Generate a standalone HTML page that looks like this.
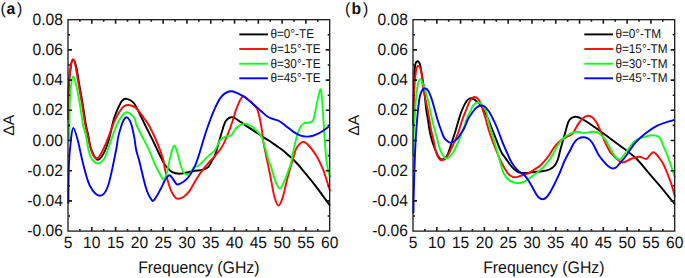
<!DOCTYPE html>
<html><head><meta charset="utf-8"><style>
html,body{margin:0;padding:0;background:#fff;}
svg{display:block;text-rendering:geometricPrecision;}
</style></head><body>
<svg width="685" height="278" viewBox="0 0 685 278">
<rect width="685" height="278" fill="#fff"/>
<g fill="none" stroke-width="1.90" stroke-linejoin="round" stroke-linecap="butt">
<path d="M68.40,120.00 C68.47,114.33 68.40,94.95 68.80,86.00 C69.20,77.05 70.08,70.70 70.80,66.30 C71.52,61.90 72.22,59.60 73.10,59.60 C73.98,59.60 75.03,61.90 76.10,66.30 C77.17,70.70 78.38,79.55 79.50,86.00 C80.62,92.45 81.73,98.50 82.80,105.00 C83.87,111.50 85.00,120.00 85.90,125.00 C86.80,130.00 87.43,131.33 88.20,135.00 C88.97,138.67 89.60,143.67 90.50,147.00 C91.40,150.33 92.40,152.87 93.60,155.00 C94.80,157.13 96.17,159.80 97.70,159.80 C99.23,159.80 101.35,157.13 102.80,155.00 C104.25,152.87 105.28,149.93 106.40,147.00 C107.52,144.07 108.30,141.90 109.50,137.40 C110.70,132.90 112.30,124.57 113.60,120.00 C114.90,115.43 115.92,113.20 117.30,110.00 C118.68,106.80 120.32,102.65 121.90,100.80 C123.48,98.95 124.83,98.57 126.80,98.90 C128.77,99.23 131.57,100.33 133.70,102.80 C135.83,105.27 137.70,110.00 139.60,113.70 C141.50,117.40 142.98,120.72 145.10,125.00 C147.22,129.28 149.82,134.32 152.30,139.40 C154.78,144.48 158.00,151.42 160.00,155.50 C162.00,159.58 163.03,161.82 164.30,163.90 C165.57,165.98 166.27,166.62 167.60,168.00 C168.93,169.38 170.32,171.25 172.30,172.20 C174.28,173.15 176.87,173.70 179.50,173.70 C182.13,173.70 185.52,172.68 188.10,172.20 C190.68,171.72 192.60,171.20 195.00,170.80 C197.40,170.40 200.25,170.47 202.50,169.80 C204.75,169.13 206.85,168.45 208.50,166.80 C210.15,165.15 211.25,162.03 212.40,159.90 C213.55,157.77 213.85,158.57 215.40,154.00 C216.95,149.43 219.97,138.00 221.70,132.50 C223.43,127.00 224.03,123.57 225.80,121.00 C227.57,118.43 229.78,116.92 232.30,117.10 C234.82,117.28 238.68,120.70 240.90,122.10 C243.12,123.50 243.30,123.95 245.60,125.50 C247.90,127.05 251.97,129.58 254.70,131.40 C257.43,133.22 259.58,134.83 262.00,136.40 C264.42,137.97 266.80,139.23 269.20,140.80 C271.60,142.37 274.00,144.12 276.40,145.80 C278.80,147.48 281.20,148.98 283.60,150.90 C286.00,152.82 288.40,155.03 290.80,157.30 C293.20,159.57 295.60,161.85 298.00,164.50 C300.40,167.15 302.35,169.73 305.20,173.20 C308.05,176.67 310.97,179.92 315.10,185.30 C319.23,190.68 327.52,202.13 330.00,205.50" stroke="#000000"/>
<path d="M68.40,120.00 C68.47,114.33 68.40,95.00 68.80,86.00 C69.20,77.00 70.12,70.45 70.80,66.00 C71.48,61.55 72.12,59.30 72.90,59.30 C73.68,59.30 74.50,61.55 75.50,66.00 C76.50,70.45 77.78,79.50 78.90,86.00 C80.02,92.50 81.13,98.50 82.20,105.00 C83.27,111.50 84.40,120.00 85.30,125.00 C86.20,130.00 86.78,131.33 87.60,135.00 C88.42,138.67 89.28,143.67 90.20,147.00 C91.12,150.33 92.02,153.12 93.10,155.00 C94.18,156.88 95.52,158.30 96.70,158.30 C97.88,158.30 98.92,156.88 100.20,155.00 C101.48,153.12 103.05,149.93 104.40,147.00 C105.75,144.07 106.55,141.90 108.30,137.40 C110.05,132.90 112.85,124.57 114.90,120.00 C116.95,115.43 119.08,112.28 120.60,110.00 C122.12,107.72 122.60,107.13 124.00,106.30 C125.40,105.47 127.05,104.75 129.00,105.00 C130.95,105.25 133.27,105.68 135.70,107.80 C138.13,109.92 141.43,114.83 143.60,117.70 C145.77,120.57 146.78,121.62 148.70,125.00 C150.62,128.38 153.20,133.80 155.10,138.00 C157.00,142.20 158.75,146.60 160.10,150.20 C161.45,153.80 162.37,156.28 163.20,159.60 C164.03,162.92 164.30,166.43 165.10,170.10 C165.90,173.77 167.05,178.25 168.00,181.60 C168.95,184.95 169.62,187.57 170.80,190.20 C171.98,192.83 173.90,195.97 175.10,197.40 C176.30,198.83 176.55,198.92 178.00,198.80 C179.45,198.68 181.88,198.02 183.80,196.70 C185.72,195.38 187.63,193.42 189.50,190.90 C191.37,188.38 193.15,184.63 195.00,181.60 C196.85,178.57 198.35,175.83 200.60,172.70 C202.85,169.57 206.10,165.60 208.50,162.80 C210.90,160.00 212.58,158.85 215.00,155.90 C217.42,152.95 220.28,150.25 223.00,145.10 C225.72,139.95 229.03,131.17 231.30,125.00 C233.57,118.83 234.72,112.85 236.60,108.10 C238.48,103.35 240.70,97.93 242.60,96.50 C244.50,95.07 246.12,98.12 248.00,99.50 C249.88,100.88 252.38,103.25 253.90,104.80 C255.42,106.35 256.15,106.65 257.10,108.80 C258.05,110.95 258.78,114.07 259.60,117.70 C260.42,121.33 261.37,126.52 262.00,130.60 C262.63,134.68 262.68,137.87 263.40,142.20 C264.12,146.53 265.52,152.80 266.30,156.60 C267.08,160.40 267.27,160.90 268.10,165.00 C268.93,169.10 270.22,175.80 271.30,181.20 C272.38,186.60 273.38,193.33 274.60,197.40 C275.82,201.47 277.25,205.60 278.60,205.60 C279.95,205.60 281.35,201.47 282.70,197.40 C284.05,193.33 285.37,186.33 286.70,181.20 C288.03,176.07 289.53,170.70 290.70,166.60 C291.87,162.50 292.72,159.70 293.70,156.60 C294.68,153.50 295.03,150.45 296.60,148.00 C298.17,145.55 300.93,142.15 303.10,141.90 C305.27,141.65 307.32,144.05 309.60,146.50 C311.88,148.95 314.65,153.00 316.80,156.60 C318.95,160.20 321.00,164.62 322.50,168.10 C324.00,171.58 324.55,173.68 325.80,177.50 C327.05,181.32 329.30,188.75 330.00,191.00" stroke="#ff0808"/>
<path d="M69.20,141.00 C69.23,138.33 69.32,131.00 69.40,125.00 C69.48,119.00 69.43,111.50 69.70,105.00 C69.97,98.50 70.42,90.77 71.00,86.00 C71.58,81.23 72.30,76.40 73.20,76.40 C74.10,76.40 75.27,81.23 76.40,86.00 C77.53,90.77 78.88,98.50 80.00,105.00 C81.12,111.50 82.13,120.00 83.10,125.00 C84.07,130.00 85.00,131.33 85.80,135.00 C86.60,138.67 87.22,143.67 87.90,147.00 C88.58,150.33 89.13,152.83 89.90,155.00 C90.67,157.17 91.22,158.58 92.50,160.00 C93.78,161.42 95.80,163.50 97.60,163.50 C99.40,163.50 101.92,161.42 103.30,160.00 C104.68,158.58 104.98,157.17 105.90,155.00 C106.82,152.83 107.97,149.33 108.80,147.00 C109.63,144.67 109.88,143.95 110.90,141.00 C111.92,138.05 113.50,132.80 114.90,129.30 C116.30,125.80 117.42,122.83 119.30,120.00 C121.18,117.17 123.70,112.63 126.20,112.30 C128.70,111.97 132.60,115.88 134.30,118.00 C136.00,120.12 134.85,121.43 136.40,125.00 C137.95,128.57 141.43,135.08 143.60,139.40 C145.77,143.72 147.50,146.75 149.40,150.90 C151.30,155.05 153.10,160.15 155.00,164.30 C156.90,168.45 159.37,173.28 160.80,175.80 C162.23,178.32 162.68,179.53 163.60,179.40 C164.52,179.27 165.55,177.05 166.30,175.00 C167.05,172.95 167.53,169.67 168.10,167.10 C168.67,164.53 169.07,162.30 169.70,159.60 C170.33,156.90 171.18,153.22 171.90,150.90 C172.62,148.58 173.28,146.05 174.00,145.70 C174.72,145.35 175.48,147.03 176.20,148.80 C176.92,150.57 177.50,153.43 178.30,156.30 C179.10,159.17 180.13,163.30 181.00,166.00 C181.87,168.70 182.45,171.07 183.50,172.50 C184.55,173.93 186.10,174.52 187.30,174.60 C188.50,174.68 189.62,174.23 190.70,173.00 C191.78,171.77 192.48,168.45 193.80,167.20 C195.12,165.95 196.15,167.38 198.60,165.50 C201.05,163.62 205.77,158.48 208.50,155.90 C211.23,153.32 212.95,152.77 215.00,150.00 C217.05,147.23 218.88,141.57 220.80,139.30 C222.72,137.03 224.75,137.07 226.50,136.40 C228.25,135.73 229.62,136.78 231.30,135.30 C232.98,133.82 234.42,129.45 236.60,127.50 C238.78,125.55 241.88,123.78 244.40,123.60 C246.92,123.42 249.43,124.97 251.70,126.40 C253.97,127.83 256.28,130.28 258.00,132.20 C259.72,134.12 260.62,134.55 262.00,137.90 C263.38,141.25 265.17,148.45 266.30,152.30 C267.43,156.15 267.97,158.47 268.80,161.00 C269.63,163.53 270.20,164.13 271.30,167.50 C272.40,170.87 274.00,177.68 275.40,181.20 C276.80,184.72 278.22,188.60 279.70,188.60 C281.18,188.60 282.93,183.97 284.30,181.20 C285.67,178.43 286.82,174.90 287.90,172.00 C288.98,169.10 289.83,167.57 290.80,163.80 C291.77,160.03 292.62,154.20 293.70,149.40 C294.78,144.60 296.17,138.77 297.30,135.00 C298.43,131.23 299.38,128.75 300.50,126.80 C301.62,124.85 302.83,123.98 304.00,123.30 C305.17,122.62 306.52,122.85 307.50,122.70 C308.48,122.55 308.92,122.90 309.90,122.40 C310.88,121.90 312.23,122.87 313.40,119.70 C314.57,116.53 315.82,108.30 316.90,103.40 C317.98,98.50 319.12,91.87 319.90,90.30 C320.68,88.73 320.93,87.92 321.60,94.00 C322.27,100.08 323.32,118.30 323.90,126.80 C324.48,135.30 324.68,139.47 325.10,145.00 C325.52,150.53 325.87,155.67 326.40,160.00 C326.93,164.33 327.70,168.17 328.30,171.00 C328.90,173.83 329.72,176.00 330.00,177.00" stroke="#10ff18"/>
<path d="M68.40,203.40 C68.48,197.00 68.48,175.57 68.90,165.00 C69.32,154.43 70.17,146.18 70.90,140.00 C71.63,133.82 72.17,127.90 73.30,127.90 C74.43,127.90 76.02,133.82 77.70,140.00 C79.38,146.18 81.35,157.33 83.40,165.00 C85.45,172.67 87.25,180.88 90.00,186.00 C92.75,191.12 96.90,195.70 99.90,195.70 C102.90,195.70 105.30,193.62 108.00,186.00 C110.70,178.38 114.42,158.10 116.10,150.00 C117.78,141.90 117.23,141.40 118.10,137.40 C118.97,133.40 120.37,128.90 121.30,126.00 C122.23,123.10 122.83,121.47 123.70,120.00 C124.57,118.53 125.53,117.20 126.50,117.20 C127.47,117.20 128.62,118.53 129.50,120.00 C130.38,121.47 131.00,123.10 131.80,126.00 C132.60,128.90 133.57,133.40 134.30,137.40 C135.03,141.40 135.37,146.07 136.20,150.00 C137.03,153.93 137.67,154.67 139.30,161.00 C140.93,167.33 143.92,181.48 146.00,188.00 C148.08,194.52 150.30,198.30 151.80,200.10 C153.30,201.90 153.50,200.68 155.00,198.80 C156.50,196.92 159.12,191.92 160.80,188.80 C162.48,185.68 163.67,182.35 165.10,180.10 C166.53,177.85 167.97,175.30 169.40,175.30 C170.83,175.30 172.38,178.57 173.70,180.10 C175.02,181.63 175.62,184.25 177.30,184.50 C178.98,184.75 181.77,183.05 183.80,181.60 C185.83,180.15 187.63,178.43 189.50,175.80 C191.37,173.17 193.48,169.12 195.00,165.80 C196.52,162.48 196.67,161.87 198.60,155.90 C200.53,149.93 203.87,137.97 206.60,130.00 C209.33,122.03 212.43,113.77 215.00,108.10 C217.57,102.43 219.30,98.82 222.00,96.00 C224.70,93.18 227.68,91.17 231.20,91.20 C234.72,91.23 239.45,94.08 243.10,96.20 C246.75,98.32 250.08,101.40 253.10,103.90 C256.12,106.40 258.77,109.05 261.20,111.20 C263.63,113.35 265.55,115.45 267.70,116.80 C269.85,118.15 272.22,118.60 274.10,119.30 C275.98,120.00 277.10,119.93 279.00,121.00 C280.90,122.07 283.08,123.88 285.50,125.70 C287.92,127.52 291.08,130.30 293.50,131.90 C295.92,133.50 297.85,134.52 300.00,135.30 C302.15,136.08 304.40,136.48 306.40,136.60 C308.40,136.72 310.05,136.50 312.00,136.00 C313.95,135.50 316.18,134.52 318.10,133.60 C320.02,132.68 321.72,131.68 323.50,130.50 C325.28,129.32 327.92,127.17 328.80,126.50" stroke="#0000ff"/>
</g>
<g stroke="#1a1a1a" stroke-width="1.3" fill="none">
<rect x="68.00" y="19.70" width="261.70" height="211.40"/>
<path stroke-width="1.6" d="M79.90,231.10v-2.00 M79.90,19.70v2.00 M91.79,231.10v-4.00 M91.79,19.70v4.00 M103.69,231.10v-2.00 M103.69,19.70v2.00 M115.58,231.10v-4.00 M115.58,19.70v4.00 M127.48,231.10v-2.00 M127.48,19.70v2.00 M139.37,231.10v-4.00 M139.37,19.70v4.00 M151.27,231.10v-2.00 M151.27,19.70v2.00 M163.16,231.10v-4.00 M163.16,19.70v4.00 M175.06,231.10v-2.00 M175.06,19.70v2.00 M186.95,231.10v-4.00 M186.95,19.70v4.00 M198.85,231.10v-2.00 M198.85,19.70v2.00 M210.75,231.10v-4.00 M210.75,19.70v4.00 M222.64,231.10v-2.00 M222.64,19.70v2.00 M234.54,231.10v-4.00 M234.54,19.70v4.00 M246.43,231.10v-2.00 M246.43,19.70v2.00 M258.33,231.10v-4.00 M258.33,19.70v4.00 M270.22,231.10v-2.00 M270.22,19.70v2.00 M282.12,231.10v-4.00 M282.12,19.70v4.00 M294.01,231.10v-2.00 M294.01,19.70v2.00 M305.91,231.10v-4.00 M305.91,19.70v4.00 M317.80,231.10v-2.00 M317.80,19.70v2.00 M68.00,34.80h2.00 M329.70,34.80h-2.00 M68.00,49.90h4.00 M329.70,49.90h-4.00 M68.00,65.00h2.00 M329.70,65.00h-2.00 M68.00,80.10h4.00 M329.70,80.10h-4.00 M68.00,95.20h2.00 M329.70,95.20h-2.00 M68.00,110.30h4.00 M329.70,110.30h-4.00 M68.00,125.40h2.00 M329.70,125.40h-2.00 M68.00,140.50h4.00 M329.70,140.50h-4.00 M68.00,155.60h2.00 M329.70,155.60h-2.00 M68.00,170.70h4.00 M329.70,170.70h-4.00 M68.00,185.80h2.00 M329.70,185.80h-2.00 M68.00,200.90h4.00 M329.70,200.90h-4.00 M68.00,216.00h2.00 M329.70,216.00h-2.00"/>
</g>
<g font-family="Liberation Sans, sans-serif" fill="#111">
<text transform="translate(62.90,24.70) scale(0.953,1)" font-size="16.40" text-anchor="end">0.08</text>
<text transform="translate(62.90,54.90) scale(0.953,1)" font-size="16.40" text-anchor="end">0.06</text>
<text transform="translate(62.90,85.10) scale(0.953,1)" font-size="16.40" text-anchor="end">0.04</text>
<text transform="translate(62.90,115.30) scale(0.953,1)" font-size="16.40" text-anchor="end">0.02</text>
<text transform="translate(62.90,145.50) scale(0.953,1)" font-size="16.40" text-anchor="end">0.00</text>
<text transform="translate(62.90,175.70) scale(0.953,1)" font-size="16.40" text-anchor="end">-0.02</text>
<text transform="translate(62.90,205.90) scale(0.953,1)" font-size="16.40" text-anchor="end">-0.04</text>
<text transform="translate(62.90,236.10) scale(0.953,1)" font-size="16.40" text-anchor="end">-0.06</text>
<text transform="translate(68.00,247.60) scale(0.953,1)" font-size="16.40" text-anchor="middle">5</text>
<text transform="translate(91.79,247.60) scale(0.953,1)" font-size="16.40" text-anchor="middle">10</text>
<text transform="translate(115.58,247.60) scale(0.953,1)" font-size="16.40" text-anchor="middle">15</text>
<text transform="translate(139.37,247.60) scale(0.953,1)" font-size="16.40" text-anchor="middle">20</text>
<text transform="translate(163.16,247.60) scale(0.953,1)" font-size="16.40" text-anchor="middle">25</text>
<text transform="translate(186.95,247.60) scale(0.953,1)" font-size="16.40" text-anchor="middle">30</text>
<text transform="translate(210.75,247.60) scale(0.953,1)" font-size="16.40" text-anchor="middle">35</text>
<text transform="translate(234.54,247.60) scale(0.953,1)" font-size="16.40" text-anchor="middle">40</text>
<text transform="translate(258.33,247.60) scale(0.953,1)" font-size="16.40" text-anchor="middle">45</text>
<text transform="translate(282.12,247.60) scale(0.953,1)" font-size="16.40" text-anchor="middle">50</text>
<text transform="translate(305.91,247.60) scale(0.953,1)" font-size="16.40" text-anchor="middle">55</text>
<text transform="translate(329.70,247.60) scale(0.953,1)" font-size="16.40" text-anchor="middle">60</text>
<text transform="translate(198.85,273.30) scale(0.948,1)" font-size="16.70" text-anchor="middle">Frequency (GHz)</text>
<text transform="translate(14.20,125.30) rotate(-90) scale(1.020,1)" font-size="15.40" text-anchor="middle">&#916;A</text>
<path d="M239.30,34.40H267.90" stroke="#000000" stroke-width="1.90"/>
<text transform="translate(270.40,38.40) scale(0.920,1)" font-size="12.80" text-anchor="start">&#952;=0&#176;-TE</text>
<path d="M239.30,49.00H267.90" stroke="#ff0808" stroke-width="1.90"/>
<text transform="translate(270.40,53.00) scale(0.920,1)" font-size="12.80" text-anchor="start">&#952;=15&#176;-TE</text>
<path d="M239.30,63.70H267.90" stroke="#10ff18" stroke-width="1.90"/>
<text transform="translate(270.40,67.70) scale(0.920,1)" font-size="12.80" text-anchor="start">&#952;=30&#176;-TE</text>
<path d="M239.30,78.30H267.90" stroke="#0000ff" stroke-width="1.90"/>
<text transform="translate(270.40,82.30) scale(0.920,1)" font-size="12.80" text-anchor="start">&#952;=45&#176;-TE</text>
</g>
<g font-family="Liberation Sans, sans-serif" font-size="16.4" fill="#111" transform="translate(0.70,14.3) scale(0.97,1)"><text x="-0.30" y="0">(</text><text x="6.1" y="-0.1" font-weight="bold" font-size="16.2">a</text><text x="16.70" y="0">)</text></g>
<g fill="none" stroke-width="1.90" stroke-linejoin="round" stroke-linecap="butt">
<path d="M413.40,125.00 C413.45,120.83 413.57,107.50 413.70,100.00 C413.83,92.50 413.97,85.67 414.20,80.00 C414.43,74.33 414.78,68.95 415.10,66.00 C415.42,63.05 415.70,63.08 416.10,62.30 C416.50,61.52 417.03,61.30 417.50,61.30 C417.97,61.30 418.43,61.60 418.90,62.30 C419.37,63.00 419.75,63.05 420.30,65.50 C420.85,67.95 421.55,72.92 422.20,77.00 C422.85,81.08 423.70,86.17 424.20,90.00 C424.70,93.83 424.85,96.67 425.20,100.00 C425.55,103.33 425.83,106.67 426.30,110.00 C426.77,113.33 427.47,116.67 428.00,120.00 C428.53,123.33 428.87,126.67 429.50,130.00 C430.13,133.33 430.88,136.83 431.80,140.00 C432.72,143.17 433.97,146.33 435.00,149.00 C436.03,151.67 436.92,154.25 438.00,156.00 C439.08,157.75 440.33,159.17 441.50,159.50 C442.67,159.83 443.92,158.95 445.00,158.00 C446.08,157.05 446.78,156.67 448.00,153.80 C449.22,150.93 451.00,144.77 452.30,140.80 C453.60,136.83 454.72,133.55 455.80,130.00 C456.88,126.45 457.77,122.83 458.80,119.50 C459.83,116.17 460.72,113.05 462.00,110.00 C463.28,106.95 465.15,103.13 466.50,101.20 C467.85,99.27 468.90,98.75 470.10,98.40 C471.30,98.05 472.62,98.62 473.70,99.10 C474.78,99.58 475.63,100.52 476.60,101.30 C477.57,102.08 478.55,102.78 479.50,103.80 C480.45,104.82 481.38,106.12 482.30,107.40 C483.22,108.68 483.97,109.40 485.00,111.50 C486.03,113.60 487.38,117.25 488.50,120.00 C489.62,122.75 490.12,123.97 491.70,128.00 C493.28,132.03 496.38,140.17 498.00,144.20 C499.62,148.23 500.10,149.80 501.40,152.20 C502.70,154.60 504.40,156.58 505.80,158.60 C507.20,160.62 508.52,162.63 509.80,164.30 C511.08,165.97 512.02,167.27 513.50,168.60 C514.98,169.93 516.63,171.57 518.70,172.30 C520.77,173.03 523.27,173.05 525.90,173.00 C528.53,172.95 532.15,172.25 534.50,172.00 C536.85,171.75 537.65,171.87 540.00,171.50 C542.35,171.13 546.18,170.75 548.60,169.80 C551.02,168.85 552.93,167.60 554.50,165.80 C556.07,164.00 557.03,161.63 558.00,159.00 C558.97,156.37 559.23,153.90 560.30,150.00 C561.37,146.10 563.05,140.30 564.40,135.60 C565.75,130.90 567.13,124.77 568.40,121.80 C569.67,118.83 570.68,118.63 572.00,117.80 C573.32,116.97 574.60,116.60 576.30,116.80 C578.00,117.00 579.90,117.80 582.20,119.00 C584.50,120.20 587.13,122.00 590.10,124.00 C593.07,126.00 596.70,128.63 600.00,131.00 C603.30,133.37 606.62,135.78 609.90,138.20 C613.18,140.62 616.75,143.30 619.70,145.50 C622.65,147.70 624.75,149.15 627.60,151.40 C630.45,153.65 632.93,155.00 636.80,159.00 C640.67,163.00 646.13,169.93 650.80,175.40 C655.47,180.87 660.77,186.95 664.80,191.80 C668.83,196.65 673.30,202.38 675.00,204.50" stroke="#000000"/>
<path d="M413.40,122.00 C413.43,120.00 413.52,113.67 413.60,110.00 C413.68,106.33 413.75,104.17 413.90,100.00 C414.05,95.83 414.23,89.17 414.50,85.00 C414.77,80.83 415.15,77.83 415.50,75.00 C415.85,72.17 416.13,69.53 416.60,68.00 C417.07,66.47 417.70,65.80 418.30,65.80 C418.90,65.80 419.62,66.47 420.20,68.00 C420.78,69.53 421.40,72.17 421.80,75.00 C422.20,77.83 421.97,80.83 422.60,85.00 C423.23,89.17 424.75,95.83 425.60,100.00 C426.45,104.17 427.05,106.67 427.70,110.00 C428.35,113.33 428.93,116.67 429.50,120.00 C430.07,123.33 430.43,126.67 431.10,130.00 C431.77,133.33 432.72,136.52 433.50,140.00 C434.28,143.48 434.93,147.88 435.80,150.90 C436.67,153.92 437.62,156.53 438.70,158.10 C439.78,159.67 440.98,160.42 442.30,160.30 C443.62,160.18 445.05,159.45 446.60,157.40 C448.15,155.35 449.92,151.48 451.60,148.00 C453.28,144.52 455.45,139.50 456.70,136.50 C457.95,133.50 458.15,132.83 459.10,130.00 C460.05,127.17 461.23,122.83 462.40,119.50 C463.57,116.17 465.17,112.38 466.10,110.00 C467.03,107.62 467.22,106.95 468.00,105.20 C468.78,103.45 469.73,100.87 470.80,99.50 C471.87,98.13 473.20,97.12 474.40,97.00 C475.60,96.88 476.92,97.67 478.00,98.80 C479.08,99.93 480.10,101.93 480.90,103.80 C481.70,105.67 481.98,107.38 482.80,110.00 C483.62,112.62 484.82,116.17 485.80,119.50 C486.78,122.83 487.27,125.58 488.70,130.00 C490.13,134.42 492.52,141.12 494.40,146.00 C496.28,150.88 498.23,155.47 500.00,159.30 C501.77,163.13 503.50,166.45 505.00,169.00 C506.50,171.55 507.75,173.30 509.00,174.60 C510.25,175.90 511.42,176.35 512.50,176.80 C513.58,177.25 514.50,177.32 515.50,177.30 C516.50,177.28 517.48,177.00 518.50,176.70 C519.52,176.40 519.88,176.08 521.60,175.50 C523.32,174.92 527.00,173.98 528.80,173.20 C530.60,172.42 531.20,171.60 532.40,170.80 C533.60,170.00 534.73,169.23 536.00,168.40 C537.27,167.57 538.58,167.03 540.00,165.80 C541.42,164.57 543.00,162.72 544.50,161.00 C546.00,159.28 547.58,157.50 549.00,155.50 C550.42,153.50 551.67,150.92 553.00,149.00 C554.33,147.08 555.57,145.53 557.00,144.00 C558.43,142.47 560.10,140.92 561.60,139.80 C563.10,138.68 564.22,138.30 566.00,137.30 C567.78,136.30 570.25,136.03 572.30,133.80 C574.35,131.57 576.52,126.53 578.30,123.90 C580.08,121.27 581.35,119.35 583.00,118.00 C584.65,116.65 586.62,115.88 588.20,115.80 C589.78,115.72 591.20,116.50 592.50,117.50 C593.80,118.50 594.60,119.43 596.00,121.80 C597.40,124.17 599.43,128.42 600.90,131.70 C602.37,134.98 603.32,138.22 604.80,141.50 C606.28,144.78 608.35,149.07 609.80,151.40 C611.25,153.73 612.22,154.15 613.50,155.50 C614.78,156.85 615.97,158.33 617.50,159.50 C619.03,160.67 620.47,162.58 622.70,162.50 C624.93,162.42 628.17,159.97 630.90,159.00 C633.63,158.03 636.57,156.70 639.10,156.70 C641.63,156.70 644.37,159.20 646.10,159.00 C647.83,158.80 648.33,156.62 649.50,155.50 C650.67,154.38 651.93,152.47 653.10,152.30 C654.27,152.13 655.33,153.38 656.50,154.50 C657.67,155.62 658.93,157.33 660.10,159.00 C661.27,160.67 662.35,162.25 663.50,164.50 C664.65,166.75 665.75,169.42 667.00,172.50 C668.25,175.58 669.67,178.92 671.00,183.00 C672.33,187.08 674.33,194.67 675.00,197.00" stroke="#ff0808"/>
<path d="M413.30,155.00 C413.32,153.67 413.30,151.17 413.40,147.00 C413.50,142.83 413.58,136.17 413.90,130.00 C414.22,123.83 414.97,115.00 415.30,110.00 C415.63,105.00 415.50,104.17 415.90,100.00 C416.30,95.83 416.98,88.45 417.70,85.00 C418.42,81.55 419.25,79.30 420.20,79.30 C421.15,79.30 422.12,81.55 423.40,85.00 C424.68,88.45 426.78,95.83 427.90,100.00 C429.02,104.17 429.37,106.67 430.10,110.00 C430.83,113.33 431.53,116.67 432.30,120.00 C433.07,123.33 433.83,126.67 434.70,130.00 C435.57,133.33 436.53,136.52 437.50,140.00 C438.47,143.48 439.10,147.85 440.50,150.90 C441.90,153.95 443.93,157.82 445.90,158.30 C447.87,158.78 450.27,156.47 452.30,153.80 C454.33,151.13 456.30,146.27 458.10,142.30 C459.90,138.33 461.65,133.92 463.10,130.00 C464.55,126.08 465.75,121.63 466.80,118.80 C467.85,115.97 468.67,114.47 469.40,113.00 C470.13,111.53 470.72,111.05 471.20,110.00 C471.68,108.95 471.52,107.85 472.30,106.70 C473.08,105.55 474.95,103.80 475.90,103.10 C476.85,102.40 477.17,102.38 478.00,102.50 C478.83,102.62 479.93,102.98 480.90,103.80 C481.87,104.62 482.83,105.87 483.80,107.40 C484.77,108.93 486.02,110.98 486.70,113.00 C487.38,115.02 487.28,116.83 487.90,119.50 C488.52,122.17 489.02,124.28 490.40,129.00 C491.78,133.72 494.60,142.38 496.20,147.80 C497.80,153.22 498.65,157.05 500.00,161.50 C501.35,165.95 502.62,171.27 504.30,174.50 C505.98,177.73 507.93,179.47 510.10,180.90 C512.27,182.33 514.90,182.97 517.30,183.10 C519.70,183.23 522.10,182.78 524.50,181.70 C526.90,180.62 529.12,178.53 531.70,176.60 C534.28,174.67 537.52,172.23 540.00,170.10 C542.48,167.97 544.52,166.32 546.60,163.80 C548.68,161.28 550.85,157.72 552.50,155.00 C554.15,152.28 555.17,149.75 556.50,147.50 C557.83,145.25 559.08,143.25 560.50,141.50 C561.92,139.75 563.37,138.32 565.00,137.00 C566.63,135.68 568.25,134.48 570.30,133.60 C572.35,132.72 574.98,131.80 577.30,131.70 C579.62,131.60 581.73,133.00 584.20,133.00 C586.67,133.00 589.82,131.77 592.10,131.70 C594.38,131.63 595.95,131.62 597.90,132.60 C599.85,133.58 602.37,136.12 603.80,137.60 C605.23,139.08 605.50,139.85 606.50,141.50 C607.50,143.15 608.47,145.17 609.80,147.50 C611.13,149.83 612.82,153.50 614.50,155.50 C616.18,157.50 617.95,160.08 619.90,159.50 C621.85,158.92 624.58,154.00 626.20,152.00 C627.82,150.00 628.05,149.40 629.60,147.50 C631.15,145.60 632.87,142.42 635.50,140.60 C638.13,138.78 642.43,137.50 645.40,136.60 C648.37,135.70 651.15,135.20 653.30,135.20 C655.45,135.20 657.02,135.80 658.30,136.60 C659.58,137.40 660.18,138.52 661.00,140.00 C661.82,141.48 662.17,143.00 663.20,145.50 C664.23,148.00 666.15,152.35 667.20,155.00 C668.25,157.65 668.70,159.15 669.50,161.40 C670.30,163.65 671.08,165.73 672.00,168.50 C672.92,171.27 674.50,176.42 675.00,178.00" stroke="#10ff18"/>
<path d="M413.40,213.30 C413.47,209.42 413.60,198.05 413.80,190.00 C414.00,181.95 414.35,172.17 414.60,165.00 C414.85,157.83 415.02,152.83 415.30,147.00 C415.58,141.17 416.00,134.50 416.30,130.00 C416.60,125.50 416.82,123.33 417.10,120.00 C417.38,116.67 417.65,113.33 418.00,110.00 C418.35,106.67 418.78,102.67 419.20,100.00 C419.62,97.33 419.90,95.75 420.50,94.00 C421.10,92.25 421.98,90.42 422.80,89.50 C423.62,88.58 424.45,88.22 425.40,88.50 C426.35,88.78 427.40,89.28 428.50,91.20 C429.60,93.12 430.95,96.87 432.00,100.00 C433.05,103.13 433.87,106.67 434.80,110.00 C435.73,113.33 436.57,116.67 437.60,120.00 C438.63,123.33 439.93,127.08 441.00,130.00 C442.07,132.92 442.92,135.62 444.00,137.50 C445.08,139.38 446.35,140.45 447.50,141.30 C448.65,142.15 449.37,142.92 450.90,142.60 C452.43,142.28 454.90,141.13 456.70,139.40 C458.50,137.67 460.40,134.18 461.70,132.20 C463.00,130.22 463.42,129.73 464.50,127.50 C465.58,125.27 466.90,121.28 468.20,118.80 C469.50,116.32 471.02,114.38 472.30,112.60 C473.58,110.82 474.70,109.23 475.90,108.10 C477.10,106.97 478.43,106.22 479.50,105.80 C480.57,105.38 481.35,105.40 482.30,105.60 C483.25,105.80 484.23,106.18 485.20,107.00 C486.17,107.82 487.32,109.50 488.10,110.50 C488.88,111.50 489.00,111.42 489.90,113.00 C490.80,114.58 492.30,117.50 493.50,120.00 C494.70,122.50 495.47,123.97 497.10,128.00 C498.73,132.03 501.73,140.28 503.30,144.20 C504.87,148.12 505.30,148.78 506.50,151.50 C507.70,154.22 509.18,158.00 510.50,160.50 C511.82,163.00 512.82,164.53 514.40,166.50 C515.98,168.47 518.32,170.85 520.00,172.30 C521.68,173.75 523.03,173.77 524.50,175.20 C525.97,176.63 527.10,178.18 528.80,180.90 C530.50,183.62 533.08,188.78 534.70,191.50 C536.32,194.22 537.17,195.90 538.50,197.20 C539.83,198.50 541.37,199.30 542.70,199.30 C544.03,199.30 545.18,198.50 546.50,197.20 C547.82,195.90 548.60,195.08 550.60,191.50 C552.60,187.92 556.18,180.78 558.50,175.70 C560.82,170.62 562.53,165.28 564.50,161.00 C566.47,156.72 568.67,153.08 570.30,150.00 C571.93,146.92 572.93,144.42 574.30,142.50 C575.67,140.58 577.02,139.38 578.50,138.50 C579.98,137.62 581.62,137.20 583.20,137.20 C584.78,137.20 586.52,137.62 588.00,138.50 C589.48,139.38 590.75,140.58 592.10,142.50 C593.45,144.42 594.95,147.83 596.10,150.00 C597.25,152.17 597.68,153.52 599.00,155.50 C600.32,157.48 602.50,160.15 604.00,161.90 C605.50,163.65 606.67,164.92 608.00,166.00 C609.33,167.08 610.67,168.15 612.00,168.40 C613.33,168.65 614.67,168.40 616.00,167.50 C617.33,166.60 618.47,164.75 620.00,163.00 C621.53,161.25 623.53,159.17 625.20,157.00 C626.87,154.83 628.28,152.42 630.00,150.00 C631.72,147.58 632.93,145.23 635.50,142.50 C638.07,139.77 641.77,136.40 645.40,133.60 C649.03,130.80 653.35,127.73 657.30,125.70 C661.25,123.67 666.23,122.38 669.10,121.40 C671.97,120.42 673.60,120.07 674.50,119.80" stroke="#0000ff"/>
</g>
<g stroke="#1a1a1a" stroke-width="1.3" fill="none">
<rect x="413.00" y="19.70" width="261.70" height="211.40"/>
<path stroke-width="1.6" d="M424.90,231.10v-2.00 M424.90,19.70v2.00 M436.79,231.10v-4.00 M436.79,19.70v4.00 M448.69,231.10v-2.00 M448.69,19.70v2.00 M460.58,231.10v-4.00 M460.58,19.70v4.00 M472.48,231.10v-2.00 M472.48,19.70v2.00 M484.37,231.10v-4.00 M484.37,19.70v4.00 M496.27,231.10v-2.00 M496.27,19.70v2.00 M508.16,231.10v-4.00 M508.16,19.70v4.00 M520.06,231.10v-2.00 M520.06,19.70v2.00 M531.95,231.10v-4.00 M531.95,19.70v4.00 M543.85,231.10v-2.00 M543.85,19.70v2.00 M555.75,231.10v-4.00 M555.75,19.70v4.00 M567.64,231.10v-2.00 M567.64,19.70v2.00 M579.54,231.10v-4.00 M579.54,19.70v4.00 M591.43,231.10v-2.00 M591.43,19.70v2.00 M603.33,231.10v-4.00 M603.33,19.70v4.00 M615.22,231.10v-2.00 M615.22,19.70v2.00 M627.12,231.10v-4.00 M627.12,19.70v4.00 M639.01,231.10v-2.00 M639.01,19.70v2.00 M650.91,231.10v-4.00 M650.91,19.70v4.00 M662.80,231.10v-2.00 M662.80,19.70v2.00 M413.00,34.80h2.00 M674.70,34.80h-2.00 M413.00,49.90h4.00 M674.70,49.90h-4.00 M413.00,65.00h2.00 M674.70,65.00h-2.00 M413.00,80.10h4.00 M674.70,80.10h-4.00 M413.00,95.20h2.00 M674.70,95.20h-2.00 M413.00,110.30h4.00 M674.70,110.30h-4.00 M413.00,125.40h2.00 M674.70,125.40h-2.00 M413.00,140.50h4.00 M674.70,140.50h-4.00 M413.00,155.60h2.00 M674.70,155.60h-2.00 M413.00,170.70h4.00 M674.70,170.70h-4.00 M413.00,185.80h2.00 M674.70,185.80h-2.00 M413.00,200.90h4.00 M674.70,200.90h-4.00 M413.00,216.00h2.00 M674.70,216.00h-2.00"/>
</g>
<g font-family="Liberation Sans, sans-serif" fill="#111">
<text transform="translate(407.90,24.70) scale(0.953,1)" font-size="16.40" text-anchor="end">0.08</text>
<text transform="translate(407.90,54.90) scale(0.953,1)" font-size="16.40" text-anchor="end">0.06</text>
<text transform="translate(407.90,85.10) scale(0.953,1)" font-size="16.40" text-anchor="end">0.04</text>
<text transform="translate(407.90,115.30) scale(0.953,1)" font-size="16.40" text-anchor="end">0.02</text>
<text transform="translate(407.90,145.50) scale(0.953,1)" font-size="16.40" text-anchor="end">0.00</text>
<text transform="translate(407.90,175.70) scale(0.953,1)" font-size="16.40" text-anchor="end">-0.02</text>
<text transform="translate(407.90,205.90) scale(0.953,1)" font-size="16.40" text-anchor="end">-0.04</text>
<text transform="translate(407.90,236.10) scale(0.953,1)" font-size="16.40" text-anchor="end">-0.06</text>
<text transform="translate(413.00,247.60) scale(0.953,1)" font-size="16.40" text-anchor="middle">5</text>
<text transform="translate(436.79,247.60) scale(0.953,1)" font-size="16.40" text-anchor="middle">10</text>
<text transform="translate(460.58,247.60) scale(0.953,1)" font-size="16.40" text-anchor="middle">15</text>
<text transform="translate(484.37,247.60) scale(0.953,1)" font-size="16.40" text-anchor="middle">20</text>
<text transform="translate(508.16,247.60) scale(0.953,1)" font-size="16.40" text-anchor="middle">25</text>
<text transform="translate(531.95,247.60) scale(0.953,1)" font-size="16.40" text-anchor="middle">30</text>
<text transform="translate(555.75,247.60) scale(0.953,1)" font-size="16.40" text-anchor="middle">35</text>
<text transform="translate(579.54,247.60) scale(0.953,1)" font-size="16.40" text-anchor="middle">40</text>
<text transform="translate(603.33,247.60) scale(0.953,1)" font-size="16.40" text-anchor="middle">45</text>
<text transform="translate(627.12,247.60) scale(0.953,1)" font-size="16.40" text-anchor="middle">50</text>
<text transform="translate(650.91,247.60) scale(0.953,1)" font-size="16.40" text-anchor="middle">55</text>
<text transform="translate(674.70,247.60) scale(0.953,1)" font-size="16.40" text-anchor="middle">60</text>
<text transform="translate(543.85,273.30) scale(0.948,1)" font-size="16.70" text-anchor="middle">Frequency (GHz)</text>
<text transform="translate(359.20,125.30) rotate(-90) scale(1.020,1)" font-size="15.40" text-anchor="middle">&#916;A</text>
<path d="M584.30,34.40H612.90" stroke="#000000" stroke-width="1.90"/>
<text transform="translate(615.40,38.40) scale(0.920,1)" font-size="12.80" text-anchor="start">&#952;=0&#176;-TM</text>
<path d="M584.30,49.00H612.90" stroke="#ff0808" stroke-width="1.90"/>
<text transform="translate(615.40,53.00) scale(0.920,1)" font-size="12.80" text-anchor="start">&#952;=15&#176;-TM</text>
<path d="M584.30,63.70H612.90" stroke="#10ff18" stroke-width="1.90"/>
<text transform="translate(615.40,67.70) scale(0.920,1)" font-size="12.80" text-anchor="start">&#952;=30&#176;-TM</text>
<path d="M584.30,78.30H612.90" stroke="#0000ff" stroke-width="1.90"/>
<text transform="translate(615.40,82.30) scale(0.920,1)" font-size="12.80" text-anchor="start">&#952;=45&#176;-TM</text>
</g>
<g font-family="Liberation Sans, sans-serif" font-size="16.4" fill="#111" transform="translate(345.70,14.3) scale(0.97,1)"><text x="-0.70" y="0">(</text><text x="6.1" y="-0.1" font-weight="bold" font-size="16.2">b</text><text x="17.80" y="0">)</text></g>
</svg>
</body></html>
